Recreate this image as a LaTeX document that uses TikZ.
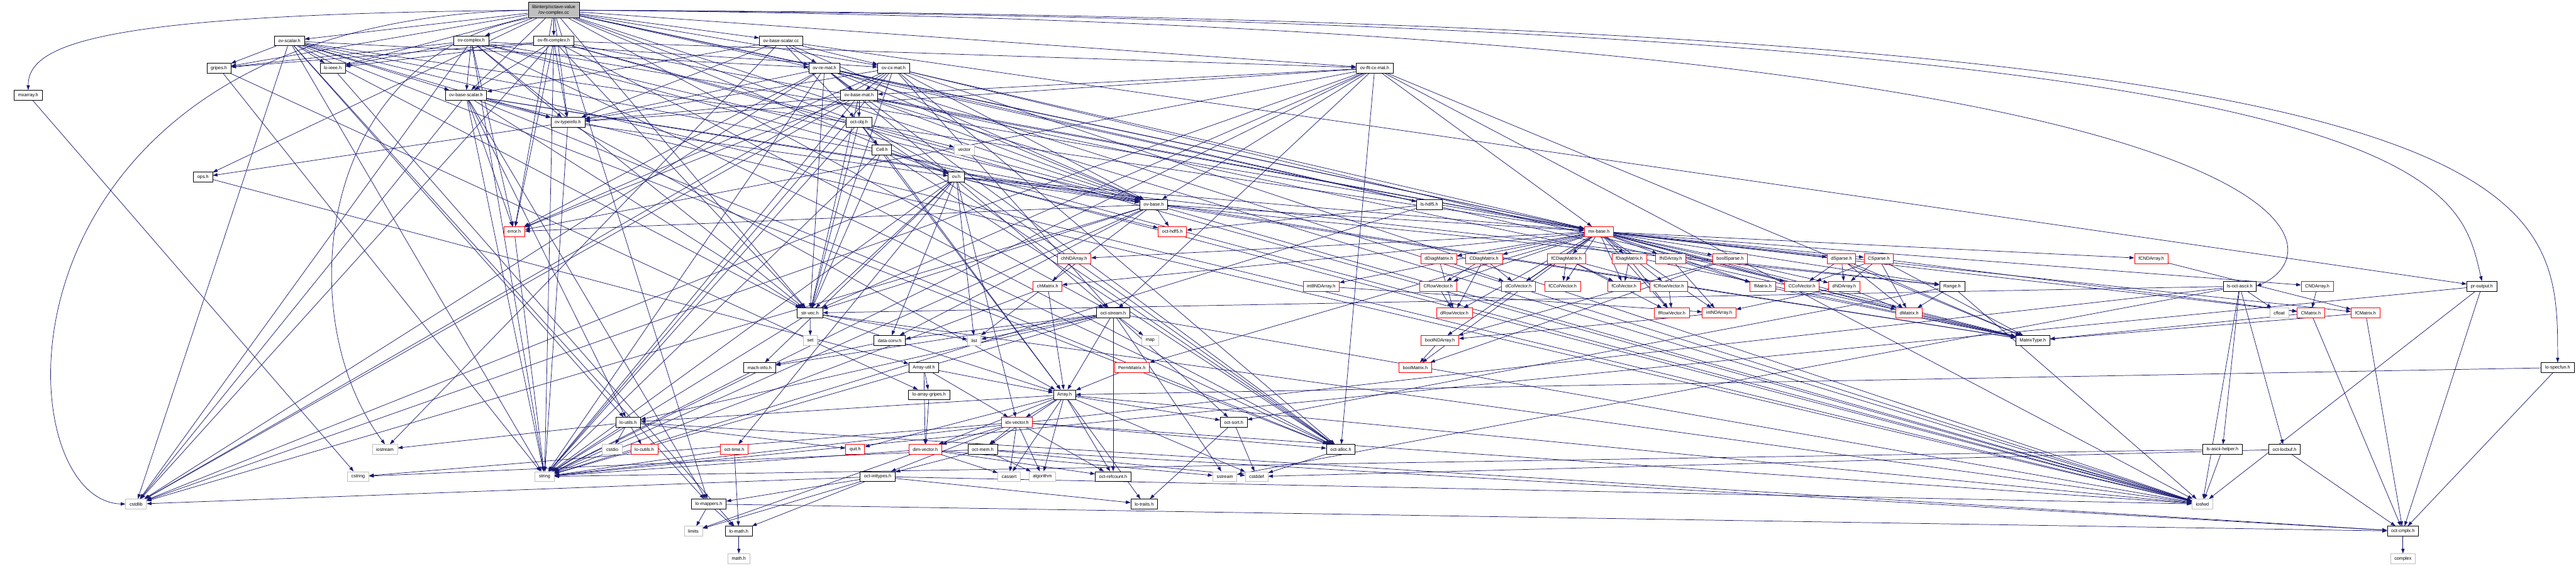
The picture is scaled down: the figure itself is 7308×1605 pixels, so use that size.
\documentclass[tikz,border=0pt]{standalone}
\usepackage{fontspec}
\setmainfont{Liberation Sans}
\usetikzlibrary{arrows.meta,backgrounds}
\definecolor{navy}{HTML}{191970}
\definecolor{gb}{HTML}{BFBFBF}
\definecolor{rootfill}{HTML}{BFBFBF}
\newcommand{\lblfont}{\fontsize{2.6pt}{3pt}\selectfont}
\tikzset{
  nb/.style={draw=black, fill=white, line width=0.28pt, minimum height=5.6pt, inner xsep=2.2pt, inner ysep=0pt, font=\lblfont, text=black},
  nr/.style={nb, draw=red},
  ng/.style={nb, draw=gb},
  rootbox/.style={nb, fill=rootfill, minimum height=9pt, align=center},
  e/.style={draw=navy, line width=0.26pt, -{Triangle[length=2.7pt,width=1.9pt]}},
}
\begin{document}
\begin{tikzpicture}[x=0.2pt,y=-0.2pt]
\useasboundingbox (0,0) rectangle (7308,1605);
\node[rootbox] (root) at (1571,29) {libinterp/octave-value\\/ov-complex.cc};
\node[nb] (ovscalar) at (821,116) {ov-scalar.h};
\node[nb] (ovcomplex) at (1337,116) {ov-complex.h};
\node[nb] (ovfltcomplex) at (1571,116) {ov-flt-complex.h};
\node[nb] (ovbasescalarcc) at (2216,116) {ov-base-scalar.cc};
\node[nb] (gripes) at (621,193) {gripes.h};
\node[nb] (loieee) at (944,193) {lo-ieee.h};
\node[nb] (ovremat) at (2339,193) {ov-re-mat.h};
\node[nb] (ovcxmat) at (2535,193) {ov-cx-mat.h};
\node[nb] (ovfltcxmat) at (3900,193) {ov-flt-cx-mat.h};
\node[nb] (mxarray) at (80,270) {mxarray.h};
\node[nb] (ovbasescalarh) at (1322,270) {ov-base-scalar.h};
\node[nb] (ovbasemat) at (2437,270) {ov-base-mat.h};
\node[nb] (ovtypeinfo) at (1611,347) {ov-typeinfo.h};
\node[nb] (octobj) at (2437,347) {oct-obj.h};
\node[nb] (cell) at (2502,425) {Cell.h};
\node[ng] (vector) at (2736,425) {vector};
\node[nb] (ops) at (576,502) {ops.h};
\node[nb] (ov) at (2713,502) {ov.h};
\node[nb] (ovbase) at (3273,580) {ov-base.h};
\node[nb] (lshdf5) at (4055,580) {ls-hdf5.h};
\node[nr] (error) at (1459,657) {error.h};
\node[nr] (octhdf5) at (3326,657) {oct-hdf5.h};
\node[nr] (mxbase) at (4536,657) {mx-base.h};
\node[nr] (chNDArray) at (3047,734) {chNDArray.h};
\node[nr] (dDiagMatrix) at (4082,734) {dDiagMatrix.h};
\node[nr] (CDiagMatrix) at (4210,734) {CDiagMatrix.h};
\node[nr] (fCDiagMatrix) at (4444,734) {fCDiagMatrix.h};
\node[nr] (fDiagMatrix) at (4622,734) {fDiagMatrix.h};
\node[nr] (fNDArray) at (4740,734) {fNDArray.h};
\node[nr] (boolSparse) at (4908,734) {boolSparse.h};
\node[nr] (dSparse) at (5224,734) {dSparse.h};
\node[nr] (CSparse) at (5330,734) {CSparse.h};
\node[nr] (fCNDArray) at (6103,734) {fCNDArray.h};
\node[nr] (chMatrix) at (2972,812) {chMatrix.h};
\node[nr] (int8NDArray) at (3748,812) {int8NDArray.h};
\node[nr] (CRowVector) at (4080,812) {CRowVector.h};
\node[nr] (dColVector) at (4308,812) {dColVector.h};
\node[nr] (fCColVector) at (4433,812) {fCColVector.h};
\node[nr] (fColVector) at (4607,812) {fColVector.h};
\node[nr] (fCRowVector) at (4734,812) {fCRowVector.h};
\node[nr] (fMatrix) at (5001,812) {fMatrix.h};
\node[nr] (CColVector) at (5112,812) {CColVector.h};
\node[nr] (dNDArray) at (5232,812) {dNDArray.h};
\node[nb] (Range) at (5538,812) {Range.h};
\node[nb] (lsoctascii) at (6354,812) {ls-oct-ascii.h};
\node[nr] (CNDArray) at (6574,812) {CNDArray.h};
\node[nb] (proutput) at (7041,812) {pr-output.h};
\node[nb] (strvec) at (2298,888) {str-vec.h};
\node[nb] (octstream) at (3158,888) {oct-stream.h};
\node[nr] (dRowVector) at (4126,888) {dRowVector.h};
\node[nr] (fRowVector) at (4743,888) {fRowVector.h};
\node[nr] (intNDArray) at (4877,888) {intNDArray.h};
\node[nr] (dMatrix) at (5416,888) {dMatrix.h};
\node[ng] (cfloat) at (6466,888) {cfloat};
\node[nr] (CMatrix) at (6556,888) {CMatrix.h};
\node[nr] (fCMatrix) at (6711,888) {fCMatrix.h};
\node[ng] (set) at (2299,966) {set};
\node[nb] (dataconv) at (2524,966) {data-conv.h};
\node[ng] (list) at (2764,966) {list};
\node[ng] (map) at (3263,966) {map};
\node[nr] (boolNDArray) at (4085,966) {boolNDArray.h};
\node[nb] (MatrixType) at (5767,966) {MatrixType.h};
\node[nb] (machinfo) at (2155,1043) {mach-info.h};
\node[nb] (arrayutil) at (2621,1043) {Array-util.h};
\node[nr] (PermMatrix) at (3211,1043) {PermMatrix.h};
\node[nr] (boolMatrix) at (4015,1043) {boolMatrix.h};
\node[nb] (lospecfun) at (7256,1043) {lo-specfun.h};
\node[nb] (loarraygripes) at (2636,1120) {lo-array-gripes.h};
\node[nb] (Array) at (3020,1120) {Array.h};
\node[nb] (loutils) at (1782,1198) {lo-utils.h};
\node[nr] (idxvector) at (2885,1198) {idx-vector.h};
\node[nb] (octsort) at (3500,1198) {oct-sort.h};
\node[ng] (iostream) at (1092,1275) {iostream};
\node[ng] (cstdio) at (1737,1275) {cstdio};
\node[nr] (locutils) at (1828,1275) {lo-cutils.h};
\node[nr] (octtime) at (2083,1275) {oct-time.h};
\node[nr] (quit) at (2426,1275) {quit.h};
\node[nr] (dimvector) at (2625,1275) {dim-vector.h};
\node[nb] (octmem) at (2788,1275) {oct-mem.h};
\node[nb] (octalloc) at (3804,1275) {oct-alloc.h};
\node[nb] (lsasciihelper) at (6305,1275) {ls-ascii-helper.h};
\node[nb] (octlocbuf) at (6481,1275) {oct-locbuf.h};
\node[ng] (cstring) at (1016,1352) {cstring};
\node[ng] (string) at (1545,1352) {string};
\node[nb] (octinttypes) at (2490,1352) {oct-inttypes.h};
\node[ng] (cassert) at (2863,1352) {cassert};
\node[ng] (algorithm) at (2957,1352) {algorithm};
\node[nb] (octrefcount) at (3158,1352) {oct-refcount.h};
\node[ng] (sstream) at (3475,1352) {sstream};
\node[ng] (cstddef) at (3565,1352) {cstddef};
\node[ng] (cstdlib) at (386,1430) {cstdlib};
\node[nb] (lomappers) at (2011,1430) {lo-mappers.h};
\node[nb] (lotraits) at (3246,1430) {lo-traits.h};
\node[ng] (iosfwd) at (6248,1430) {iosfwd};
\node[ng] (limits) at (1967,1507) {limits};
\node[nb] (lomath) at (2096,1507) {lo-math.h};
\node[nb] (octcmplx) at (6817,1507) {oct-cmplx.h};
\node[ng] (mathh) at (2096,1585) {math.h};
\node[ng] (complex) at (6817,1585) {complex};

\begin{pgfonlayer}{background}
\draw[e] (root.west) .. controls (300,40) and (80,120) .. (mxarray.north);
\draw[e] (root.west) .. controls (-60,60) and (0,1420) .. (cstdlib.west);
\draw[e] (root.south west) .. controls (900,160) and (820,900) .. (iostream.north);
\draw[e] (root.east) .. controls (6600,70) and (6660,700) .. (lsoctascii.east);
\draw[e] (root.east) .. controls (6950,60) and (6970,500) .. (proutput.north);
\draw[e] (root.east) .. controls (7250,50) and (7256,500) .. (lospecfun.north);
\foreach \a/\b in {
 root/ovscalar, root/ovcomplex, root/ovfltcomplex, root/ovbasescalarcc, root/gripes, root/loieee, root/ops,
 root/ovcxmat, root/ovfltcxmat, root/ovbasescalarh, root/octobj, root/ov, root/ovbase, root/lshdf5, root/mxbase,
 root/octstream, root/lomappers, root/error, root/ovtypeinfo, root/strvec, root/ovremat,
 ovscalar/cstdlib, ovscalar/iosfwd, ovscalar/string, ovscalar/loieee, ovscalar/lomappers, ovscalar/loutils,
 ovscalar/mxbase, ovscalar/octalloc, ovscalar/strvec, ovscalar/gripes, ovscalar/ovbase, ovscalar/ovremat,
 ovscalar/ovbasescalarh, ovscalar/ovtypeinfo,
 ovcomplex/cstdlib, ovcomplex/iosfwd, ovcomplex/string, ovcomplex/loieee, ovcomplex/mxbase, ovcomplex/octalloc,
 ovcomplex/strvec, ovcomplex/error, ovcomplex/ovbase, ovcomplex/ovcxmat, ovcomplex/ovbasescalarh,
 ovcomplex/ovtypeinfo, ovcomplex/gripes,
 ovfltcomplex/cstdlib, ovfltcomplex/iosfwd, ovfltcomplex/string, ovfltcomplex/loieee, ovfltcomplex/mxbase,
 ovfltcomplex/octalloc, ovfltcomplex/strvec, ovfltcomplex/error, ovfltcomplex/ovbase, ovfltcomplex/ovfltcxmat,
 ovfltcomplex/ovbasescalarh, ovfltcomplex/ovtypeinfo, ovfltcomplex/gripes,
 ovbasescalarcc/iostream, ovbasescalarcc/octobj, ovbasescalarcc/ovbase, ovbasescalarcc/ovcxmat,
 ovbasescalarcc/ovremat, ovbasescalarcc/ovbasescalarh, ovbasescalarcc/proutput, ovbasescalarcc/ovtypeinfo,
 gripes/string, gripes/loarraygripes, loieee/lomath, mxarray/cstring,
 ovremat/cstdlib, ovremat/iosfwd, ovremat/string, ovremat/mxbase, ovremat/octalloc, ovremat/strvec,
 ovremat/error, ovremat/octstream, ovremat/ovbase, ovremat/ovbasemat, ovremat/ovtypeinfo, ovremat/MatrixType,
 ovcxmat/cstdlib, ovcxmat/iosfwd, ovcxmat/string, ovcxmat/mxbase, ovcxmat/octalloc, ovcxmat/strvec,
 ovcxmat/error, ovcxmat/octstream, ovcxmat/ovbase, ovcxmat/ovbasemat, ovcxmat/ovtypeinfo, ovcxmat/MatrixType,
 ovfltcxmat/cstdlib, ovfltcxmat/iosfwd, ovfltcxmat/string, ovfltcxmat/mxbase, ovfltcxmat/octalloc,
 ovfltcxmat/strvec, ovfltcxmat/error, ovfltcxmat/octstream, ovfltcxmat/ovbase, ovfltcxmat/ovbasemat,
 ovfltcxmat/ovtypeinfo, ovfltcxmat/MatrixType,
 ovbasescalarh/cstdlib, ovbasescalarh/iosfwd, ovbasescalarh/string, ovbasescalarh/lomappers,
 ovbasescalarh/loutils, ovbasescalarh/octalloc, ovbasescalarh/strvec, ovbasescalarh/MatrixType,
 ovbasescalarh/ovbase, ovbasescalarh/ovtypeinfo, ovbasescalarh/error,
 ovbasemat/cstdlib, ovbasemat/iosfwd, ovbasemat/string, ovbasemat/mxbase, ovbasemat/strvec,
 ovbasemat/MatrixType, ovbasemat/error, ovbasemat/octobj, ovbasemat/ovbase, ovbasemat/ovtypeinfo,
 ovtypeinfo/string, ovtypeinfo/Array, ovtypeinfo/ov, ovtypeinfo/ops,
 octobj/string, octobj/vector, octobj/octalloc, octobj/strvec, octobj/Array, octobj/cell, octobj/ov,
 cell/string, cell/Array, cell/octalloc, cell/strvec, cell/ov,
 ops/arrayutil,
 ov/cstdlib, ov/iosfwd, ov/string, ov/list, ov/Range, ov/dataconv, ov/idxvector, ov/machinfo, ov/mxbase,
 ov/octalloc, ov/octtime, ov/strvec, ov/octhdf5, ov/ovbase,
 ovbase/cstdlib, ovbase/iosfwd, ovbase/list, ovbase/string, ovbase/Range, ovbase/dataconv, ovbase/mxbase,
 ovbase/strvec, ovbase/error, ovbase/octhdf5, ovbase/MatrixType,
 lshdf5/octhdf5, lshdf5/string, error/string,
 mxbase/MatrixType, mxbase/boolMatrix, mxbase/chMatrix, mxbase/dMatrix, mxbase/CMatrix, mxbase/fMatrix,
 mxbase/fCMatrix, mxbase/dColVector, mxbase/dRowVector, mxbase/CColVector, mxbase/CRowVector,
 mxbase/fColVector, mxbase/fRowVector, mxbase/fCColVector, mxbase/fCRowVector, mxbase/dDiagMatrix,
 mxbase/CDiagMatrix, mxbase/fDiagMatrix, mxbase/fCDiagMatrix, mxbase/PermMatrix, mxbase/boolNDArray,
 mxbase/chNDArray, mxbase/dNDArray, mxbase/fNDArray, mxbase/CNDArray, mxbase/fCNDArray, mxbase/int8NDArray,
 mxbase/intNDArray, mxbase/boolSparse, mxbase/dSparse, mxbase/CSparse, mxbase/Range,
 chNDArray/chMatrix, dDiagMatrix/dColVector, dDiagMatrix/dRowVector,
 CDiagMatrix/CRowVector, CDiagMatrix/dColVector, CDiagMatrix/dRowVector,
 fCDiagMatrix/fCColVector, fCDiagMatrix/fColVector, fCDiagMatrix/fRowVector, fCDiagMatrix/fCRowVector,
 fDiagMatrix/fColVector, fDiagMatrix/fRowVector, fNDArray/fMatrix, fNDArray/intNDArray,
 boolSparse/boolMatrix, boolSparse/boolNDArray,
 dSparse/CColVector, dSparse/dNDArray, dSparse/dMatrix, dSparse/MatrixType,
 CSparse/CColVector, CSparse/dNDArray, CSparse/CMatrix, CSparse/MatrixType, CSparse/dMatrix,
 fCNDArray/fCMatrix, chMatrix/Array, chMatrix/string, int8NDArray/intNDArray, CRowVector/dRowVector,
 fCRowVector/fRowVector, fMatrix/MatrixType, dNDArray/dMatrix, dNDArray/intNDArray,
 Range/dMatrix, Range/iosfwd, Range/octsort,
 lsoctascii/cfloat, lsoctascii/lsasciihelper, lsoctascii/string, lsoctascii/sstream, lsoctascii/strvec,
 lsoctascii/iosfwd, lsoctascii/octlocbuf, CNDArray/CMatrix,
 proutput/iosfwd, proutput/octcmplx, proutput/string,
 strvec/set, strvec/string, strvec/list, strvec/Array, strvec/iosfwd,
 octstream/iosfwd, octstream/sstream, octstream/string, octstream/map, octstream/list, octstream/Array,
 octstream/dataconv, octstream/loutils, octstream/machinfo, octstream/octrefcount, octstream/octsort,
 intNDArray/boolNDArray, dMatrix/MatrixType, CMatrix/octcmplx, CMatrix/MatrixType,
 fCMatrix/octcmplx, fCMatrix/MatrixType, dataconv/machinfo, boolNDArray/boolMatrix, machinfo/string,
 arrayutil/Array, arrayutil/dimvector, arrayutil/idxvector, arrayutil/loarraygripes, PermMatrix/Array,
 lospecfun/octcmplx, lospecfun/Array, loarraygripes/dimvector,
 Array/cassert, Array/cstddef, Array/algorithm, Array/iosfwd, Array/dimvector, Array/idxvector,
 Array/lotraits, Array/loutils, Array/octsort, Array/quit, Array/octmem, Array/octrefcount,
 loutils/cstdio, loutils/iostream, loutils/string, loutils/locutils, loutils/octcmplx, loutils/quit,
 idxvector/cassert, idxvector/cstring, idxvector/iosfwd, idxvector/dimvector, idxvector/octinttypes,
 idxvector/octalloc, idxvector/octmem, idxvector/octrefcount, idxvector/algorithm,
 octsort/lotraits, octsort/cstddef, octtime/string, octtime/lomath,
 dimvector/cassert, dimvector/limits, dimvector/sstream, dimvector/string, dimvector/octrefcount,
 octmem/cstddef, octmem/cstring, octmem/algorithm, octmem/octcmplx, octmem/octinttypes,
 octalloc/cstddef, lsasciihelper/iosfwd, lsasciihelper/string, octlocbuf/cstddef, octlocbuf/octcmplx,
 octinttypes/cstdlib, octinttypes/limits, octinttypes/iosfwd, octinttypes/lotraits, octinttypes/lomath,
 octinttypes/lomappers, lomappers/limits, lomappers/octcmplx, lomappers/lomath,
 lomath/mathh, octcmplx/complex}
 \draw[e] (\a) -- (\b);
\end{pgfonlayer}
\end{tikzpicture}
\end{document}
